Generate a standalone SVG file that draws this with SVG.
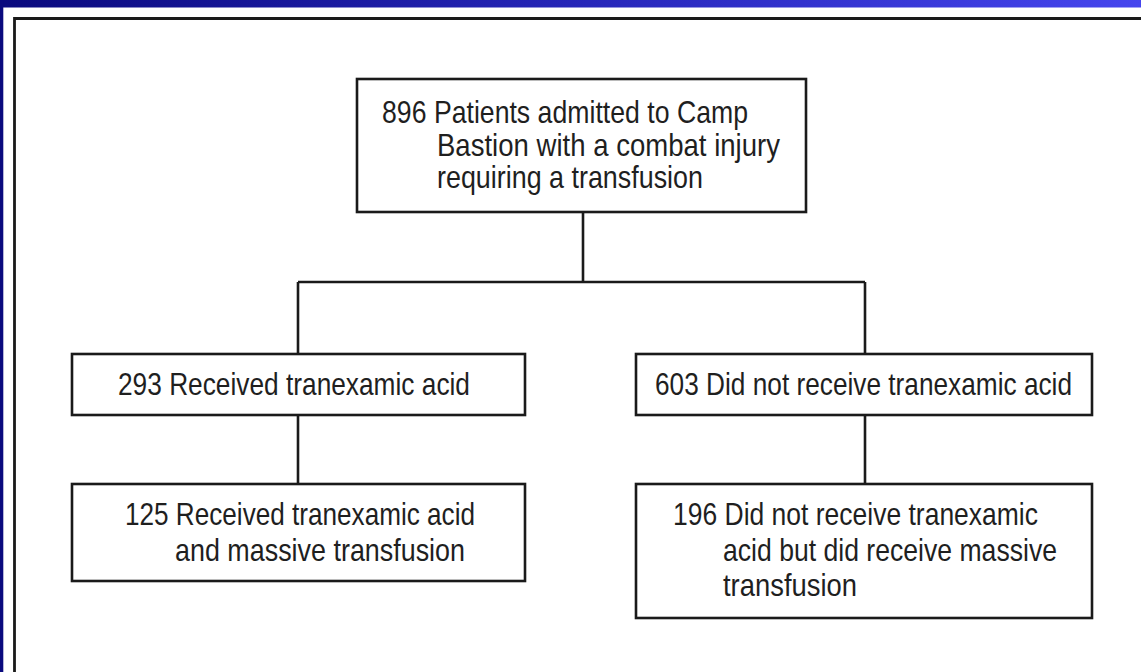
<svg xmlns="http://www.w3.org/2000/svg" width="1141" height="672" viewBox="0 0 1141 672">
  <defs>
    <linearGradient id="topbar" x1="0" y1="0" x2="1" y2="0">
      <stop offset="0" stop-color="#0a0a7e"/>
      <stop offset="0.5" stop-color="#2626b8"/>
      <stop offset="1" stop-color="#4646ee"/>
    </linearGradient>
  </defs>
  <style>
    .box { fill: #ffffff; stroke: #1a1a1a; stroke-width: 2.6; }
    .conn { fill: none; stroke: #1a1a1a; stroke-width: 2.6; }
    .frame { fill: none; stroke: #1a1a1a; stroke-width: 2.8; }
    .t { font-family: "Liberation Sans", Arial, sans-serif; font-size: 31px; fill: #1f1f1f; }
  </style>
  <rect x="0" y="0" width="1141" height="672" fill="#ffffff"/>
  <rect x="0" y="0" width="1141" height="7.5" fill="url(#topbar)"/>
  <rect x="0" y="0" width="3.3" height="672" fill="#0a0a7e"/>
  <path class="frame" d="M14.5,672 V18.5 H1141"/>

  <g id="connectors">
    <path class="conn" d="M583,212 V282"/>
    <path class="conn" d="M298,282 H865"/>
    <path class="conn" d="M298,282 V354"/>
    <path class="conn" d="M865,282 V354"/>
    <path class="conn" d="M298,415 V484"/>
    <path class="conn" d="M865,415 V484"/>
  </g>

  <g id="node-896">
    <rect class="box" x="357" y="79" width="449" height="133"/>
    <text class="t" transform="translate(382,123) scale(0.85,1)" textLength="430.6" lengthAdjust="spacingAndGlyphs">896 Patients admitted to Camp</text>
    <text class="t" transform="translate(437,156) scale(0.85,1)" textLength="403.5" lengthAdjust="spacingAndGlyphs">Bastion with a combat injury</text>
    <text class="t" transform="translate(437,188) scale(0.85,1)" textLength="312.9" lengthAdjust="spacingAndGlyphs">requiring a transfusion</text>
  </g>

  <g id="node-293">
    <rect class="box" x="72" y="354" width="453" height="61"/>
    <text class="t" transform="translate(118,395) scale(0.85,1)" textLength="414.1" lengthAdjust="spacingAndGlyphs">293 Received tranexamic acid</text>
  </g>

  <g id="node-603">
    <rect class="box" x="636" y="354" width="456" height="61"/>
    <text class="t" transform="translate(655,395) scale(0.85,1)" textLength="490.6" lengthAdjust="spacingAndGlyphs">603 Did not receive tranexamic acid</text>
  </g>

  <g id="node-125">
    <rect class="box" x="72" y="484" width="453" height="97"/>
    <text class="t" transform="translate(125,525) scale(0.85,1)" textLength="411.8" lengthAdjust="spacingAndGlyphs">125 Received tranexamic acid</text>
    <text class="t" transform="translate(175,561) scale(0.85,1)" textLength="341.2" lengthAdjust="spacingAndGlyphs">and massive transfusion</text>
  </g>

  <g id="node-196">
    <rect class="box" x="636" y="484" width="456" height="134"/>
    <text class="t" transform="translate(673,525) scale(0.85,1)" textLength="429.4" lengthAdjust="spacingAndGlyphs">196 Did not receive tranexamic</text>
    <text class="t" transform="translate(723,561) scale(0.85,1)" textLength="392.9" lengthAdjust="spacingAndGlyphs">acid but did receive massive</text>
    <text class="t" transform="translate(723,596) scale(0.85,1)" textLength="157.6" lengthAdjust="spacingAndGlyphs">transfusion</text>
  </g>
</svg>
